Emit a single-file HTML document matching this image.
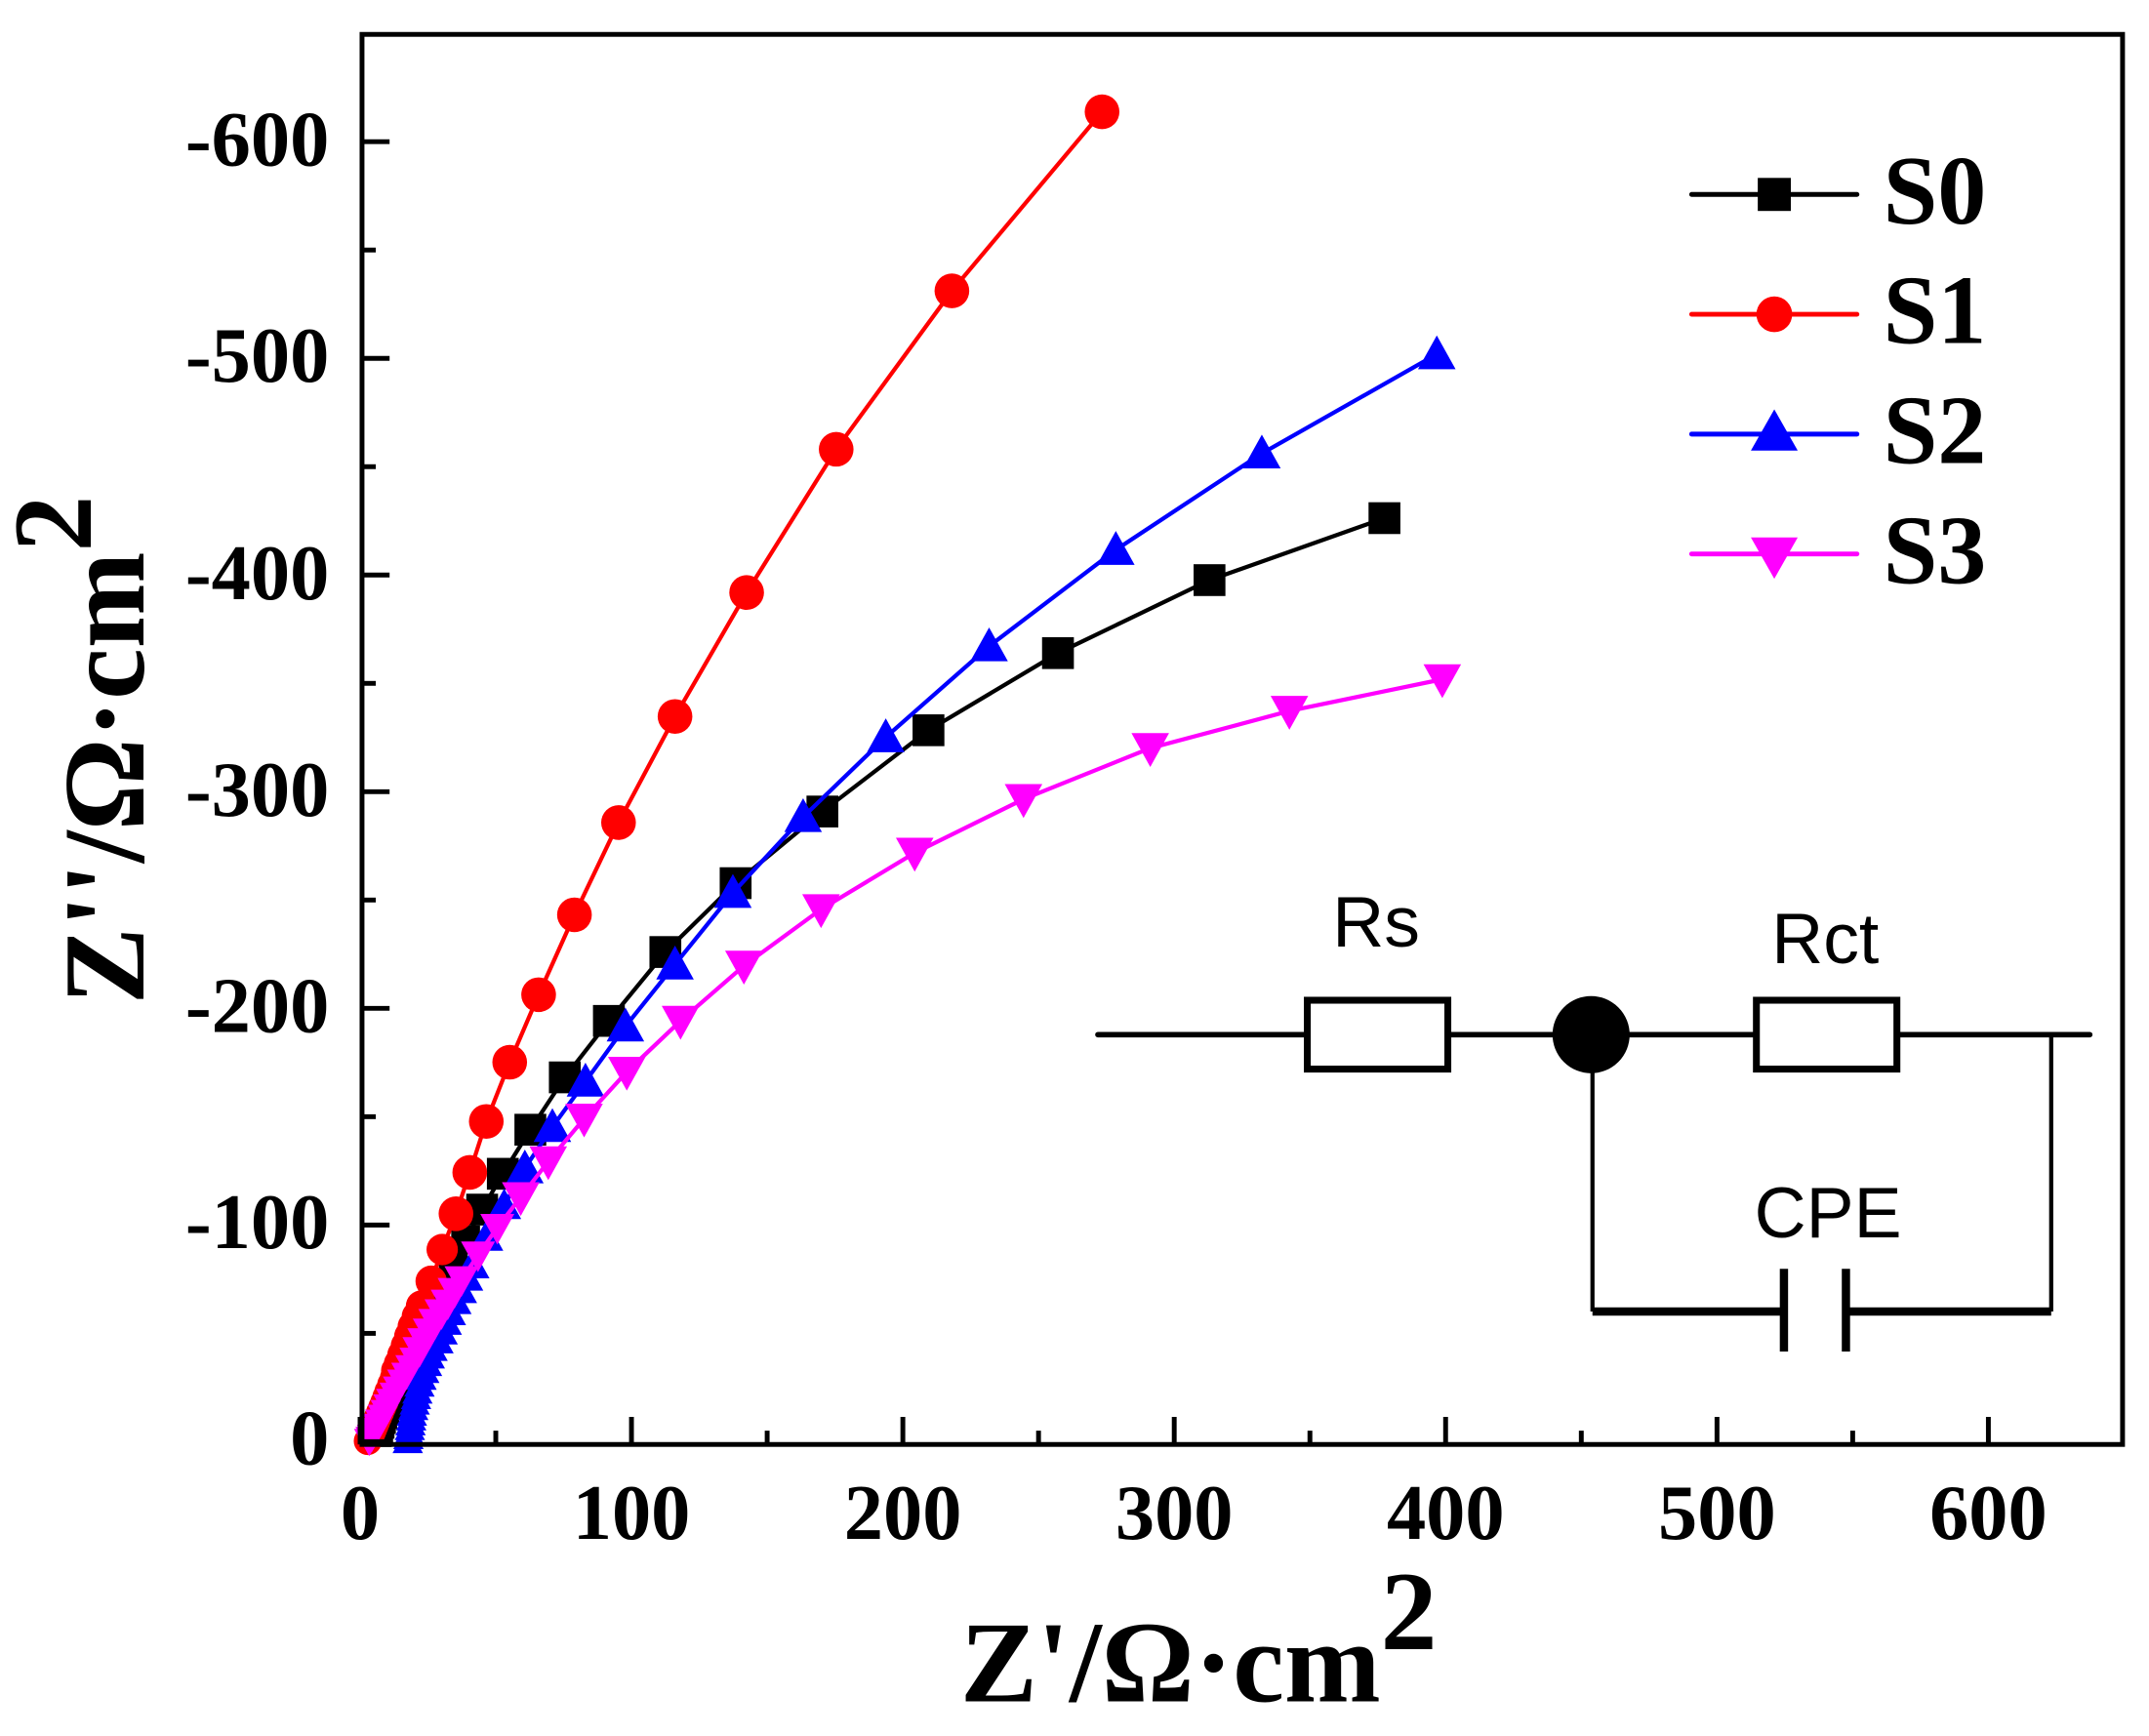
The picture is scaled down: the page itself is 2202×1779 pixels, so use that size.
<!DOCTYPE html>
<html><head><meta charset="utf-8"><style>html,body{margin:0;padding:0;background:#fff}svg{display:block}</style></head>
<body>
<svg id="s" xmlns="http://www.w3.org/2000/svg" width="2202" height="1779" viewBox="0 0 1560 1260">
<rect width="1560" height="1260" fill="#fff"/>
<g id="data"></g>
<rect x="262.8" y="24.8" width="1278" height="1023.7" fill="none" stroke="#000" stroke-width="3.5"/>
<g id="ticks" stroke="#000" stroke-width="3.5"></g>
<g font-family="'Liberation Serif',serif" font-weight="bold" font-size="57" fill="#000">
<g text-anchor="end">
<text x="239" y="1063">0</text>
<text x="239" y="906">-100</text>
<text x="239" y="749">-200</text>
<text x="239" y="592">-300</text>
<text x="239" y="435">-400</text>
<text x="239" y="277">-500</text>
<text x="239" y="120">-600</text>
</g>
<g text-anchor="middle">
<text x="261.4" y="1117">0</text>
<text x="458.4" y="1117">100</text>
<text x="655.4" y="1117">200</text>
<text x="852.4" y="1117">300</text>
<text x="1049.4" y="1117">400</text>
<text x="1246.4" y="1117">500</text>
<text x="1443.4" y="1117">600</text>
</g>
<text x="697" y="1235" font-size="84">Z'/Ω·cm<tspan dy="-38" font-size="82">2</tspan></text>
<text transform="translate(104,729) rotate(-90)" font-size="84">Z''/Ω·cm<tspan dy="-38" font-size="82">2</tspan></text>
<g font-size="71">
<text x="1367" y="162">S0</text>
<text x="1367" y="249">S1</text>
<text x="1367" y="336">S2</text>
<text x="1367" y="423">S3</text>
</g>
</g>
<g stroke-width="3.5" stroke-linecap="round">
<line x1="1228" y1="141" x2="1348" y2="141" stroke="#000"/>
<rect x="1276" y="129" width="24" height="24" fill="#000"/>
<line x1="1228" y1="228" x2="1348" y2="228" stroke="#f00"/>
<circle cx="1288" cy="228" r="13" fill="#f00" stroke="none"/>
<line x1="1228" y1="315" x2="1348" y2="315" stroke="#00f"/>
<polygon points="1288,297 1305,327 1271,327" fill="#00f" stroke="none"/>
<line x1="1228" y1="402" x2="1348" y2="402" stroke="#f0f"/>
<polygon points="1271,390 1305,390 1288,420" fill="#f0f" stroke="none"/>
</g>
<g stroke="#000" fill="none">
<line x1="797" y1="751" x2="1517" y2="751" stroke-width="4" stroke-linecap="round"/>
<rect x="949" y="726" width="102" height="50" fill="#fff" stroke-width="5"/>
<rect x="1275" y="726" width="102" height="50" fill="#fff" stroke-width="5"/>
<ellipse cx="1155" cy="751" rx="27.5" ry="27.5" fill="#000"/>
<line x1="1156" y1="751" x2="1156" y2="952" stroke-width="3"/>
<line x1="1489" y1="751" x2="1489" y2="952" stroke-width="3"/>
<line x1="1156" y1="952" x2="1294" y2="952" stroke-width="6"/>
<line x1="1341" y1="952" x2="1489" y2="952" stroke-width="6"/>
<line x1="1295" y1="921" x2="1295" y2="981" stroke-width="6"/>
<line x1="1340" y1="921" x2="1340" y2="981" stroke-width="6"/>
</g>
<g font-family="'Liberation Sans Narrow','Liberation Sans',sans-serif" font-size="52" fill="#000" text-anchor="middle">
<text x="999" y="687">Rs</text>
<text x="1325" y="699">Rct</text>
<text x="1327" y="898">CPE</text>
</g>
</svg>
<script>
var NS="http://www.w3.org/2000/svg";
function el(n,a,p){var e=document.createElementNS(NS,n);for(var k in a)e.setAttribute(k,a[k]);p.appendChild(e);return e;}
var tk=document.getElementById('ticks');
for(var i=0;i<=13;i++){var x=261.4+98.5*i;if(x>1540)break;el('line',{x1:x,y1:1048.5,x2:x,y2:1048.5-(i%2?10:20)},tk);}
for(var i=0;i<=13;i++){var y=1046.5-78.65*i;if(y<26)break;el('line',{x1:262.8,y1:y,x2:262.8+(i%2?10:20),y2:y},tk);}
var d=document.getElementById('data');
var S={
s0:{c:"#000",m:"sq",p:[[1005,376],[878,421],[768,474],[674,530],[597,589],[534,641],[483,691],[442,741],[410,782],[385,820],[365,852],[350,878],[338,900],[329,918],[321,935],[314,950],[308,963],[302,975],[297,986],[293,996],[289,1005],[285,1013],[282,1021],[279,1028],[277,1035],[275,1041]]},
s2:{c:"#00f",m:"up",p:[[1043,257],[916,329],[810,399],[718,469],[643,535],[583,593],[532,648],[490,700],[454,745],[425,785],[401,818],[381,848],[366,875],[353,898],[343,918],[334,936],[326,952],[320,966],[314,979],[310,990],[306,1000],[303,1010],[301,1018],[299,1026],[298,1033],[297,1040],[296,1046]]},
s3:{c:"#f0f",m:"dn",p:[[1047,493],[936,516],[835,543],[743,580],[664,619],[596,660],[540,701],[494,741],[455,778],[424,812],[398,843],[378,869],[361,891],[347,911],[335,929],[325,946],[316,960],[308,974],[301,987],[295,998],[289,1008],[284,1017],[280,1025],[276,1032],[273,1038],[270,1043],[268,1046]]},
s1:{c:"#f00",m:"ci",p:[[800,81],[691,211],[607,326],[542,430],[490,520],[449,597],[417,664],[391,722],[370,771],[353,814],[341,851],[331,881],[321,907],[313,930],[306,948],[300,963],[295,977],[290,990],[286,1000],[282,1010],[279,1018],[276,1025],[273,1032],[271,1037],[269,1042],[267,1046]]}
};
["s0","s2","s1","s3"].forEach(function(k){var s=S[k];
el('polyline',{points:s.p.map(function(q){return q.join(',')}).join(' '),fill:'none',stroke:s.c,'stroke-width':3},d);
var pts=[];s.p.forEach(function(q,i){pts.push([q[0],q[1],i]);if(i>=14&&i<s.p.length-1){var n=s.p[i+1];pts.push([(q[0]+n[0])/2,(q[1]+n[1])/2,i]);}});
pts.forEach(function(q){var x=q[0],y=q[1],i=q[2];var sc=i<12?1.05:(i<18?0.95:0.85);
if(s.m=="sq"){var h=11*sc;el('rect',{x:x-h,y:y-h,width:2*h,height:2*h,fill:s.c},d);}
else if(s.m=="ci"){el('circle',{cx:x,cy:y,r:12*sc,fill:s.c},d);}
else if(s.m=="up"){var h=13*sc;el('polygon',{points:x+','+(y-h)+' '+(x+h)+','+(y+h*0.8)+' '+(x-h)+','+(y+h*0.8),fill:s.c},d);}
else {var h=13*sc;el('polygon',{points:(x-h)+','+(y-h*0.8)+' '+(x+h)+','+(y-h*0.8)+' '+x+','+(y+h),fill:s.c},d);}
});});
</script>
</body></html>
